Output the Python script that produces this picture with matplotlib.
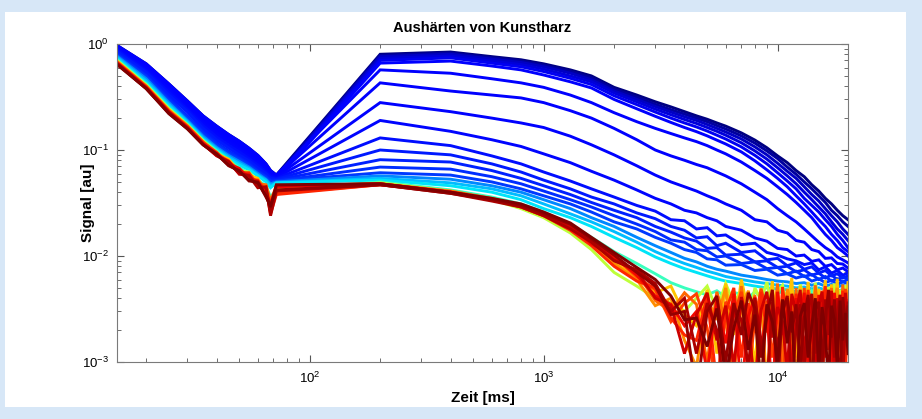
"""
    Aushaerten von Kunstharz: NMR signal decay curves on log-log axes,
    one curve per curing time, coloured with the jet colormap.
"""
# Modules:
import matplotlib
matplotlib.use("Agg")
import matplotlib.pyplot as plt
from matplotlib.patches import Rectangle

# Fonts (Helvetica-like, MATLAB look):
plt.rcParams['font.family'] = ['Liberation Sans', 'DejaVu Sans']
plt.rcParams['mathtext.fontset'] = 'custom'
plt.rcParams['mathtext.rm'] = 'Liberation Sans'
plt.rcParams['mathtext.default'] = 'regular'

# Data:
# time axis (ms): early echo train, later points, finer tail of late curves
early_t = [15, 20, 25, 30, 35, 40, 45, 50, 55, 60, 65, 68, 72]
late_t = [200, 400, 600, 800, 1000, 1300, 1600, 2000, 2500, 3000,
          3500, 4000, 4500, 5000, 5500, 6000, 7000, 8000, 9000, 10000,
          11000, 12000, 13000, 14000, 15000, 16000, 17000, 18000, 19000, 20000]
mid_t = late_t[:12]
tail_t = [4500, 5000, 5500, 6000, 6500, 7000, 7500, 8000,
          8500, 9000, 9500, 10000, 10500, 11000, 11500, 12000,
          12500, 13000, 13500, 14000, 14500, 15000, 15500, 16000,
          16500, 17000, 17500, 18000, 18500, 19000, 19500, 20000]

# position of each curve in the jet colormap (0 = first, 1 = last)
colour_pos = [0.0, 0.03, 0.06, 0.08, 0.10, 0.11,
              0.115, 0.12, 0.125, 0.13, 0.14, 0.15, 0.16, 0.17, 0.18,
              0.26, 0.31, 0.35,
              0.42, 0.58, 0.70, 0.76, 0.80, 0.84, 0.87, 0.90, 0.93, 0.96, 0.98, 1.0]

# signal at early_t, one row per curve
early_signal = [
    [0.97, 0.65, 0.42, 0.29, 0.21, 0.168, 0.140, 0.121, 0.104, 0.089, 0.074, 0.064, 0.058],
    [0.95, 0.63, 0.40, 0.275, 0.20, 0.158, 0.132, 0.114, 0.098, 0.084, 0.070, 0.062, 0.057],
    [0.93, 0.61, 0.385, 0.265, 0.19, 0.150, 0.126, 0.108, 0.093, 0.080, 0.068, 0.060, 0.056],
    [0.91, 0.59, 0.37, 0.25, 0.18, 0.142, 0.119, 0.102, 0.088, 0.076, 0.065, 0.058, 0.055],
    [0.88, 0.56, 0.35, 0.24, 0.17, 0.133, 0.111, 0.096, 0.083, 0.072, 0.062, 0.056, 0.054],
    [0.85, 0.54, 0.33, 0.23, 0.16, 0.125, 0.105, 0.090, 0.079, 0.068, 0.060, 0.054, 0.053],
    [0.97, 0.65, 0.42, 0.29, 0.21, 0.168, 0.140, 0.121, 0.104, 0.089, 0.074, 0.064, 0.058],
    [0.95, 0.63, 0.40, 0.275, 0.20, 0.158, 0.132, 0.114, 0.098, 0.084, 0.070, 0.062, 0.057],
    [0.93, 0.61, 0.385, 0.265, 0.19, 0.150, 0.126, 0.108, 0.093, 0.080, 0.068, 0.060, 0.056],
    [0.91, 0.59, 0.37, 0.25, 0.18, 0.142, 0.119, 0.102, 0.088, 0.076, 0.065, 0.058, 0.055],
    [0.88, 0.56, 0.35, 0.24, 0.17, 0.133, 0.111, 0.096, 0.083, 0.072, 0.062, 0.056, 0.054],
    [0.85, 0.54, 0.33, 0.23, 0.16, 0.125, 0.105, 0.090, 0.079, 0.068, 0.060, 0.054, 0.053],
    [0.82, 0.51, 0.31, 0.21, 0.150, 0.117, 0.098, 0.085, 0.075, 0.064, 0.057, 0.052, 0.052],
    [0.80, 0.50, 0.30, 0.205, 0.145, 0.113, 0.095, 0.083, 0.073, 0.063, 0.056, 0.051, 0.051],
    [0.79, 0.49, 0.29, 0.20, 0.140, 0.110, 0.092, 0.081, 0.071, 0.062, 0.055, 0.050, 0.051],
    [0.77, 0.47, 0.28, 0.19, 0.135, 0.106, 0.089, 0.078, 0.069, 0.060, 0.053, 0.048, 0.050],
    [0.75, 0.45, 0.27, 0.185, 0.130, 0.103, 0.086, 0.075, 0.067, 0.058, 0.052, 0.046, 0.049],
    [0.73, 0.43, 0.26, 0.18, 0.126, 0.100, 0.083, 0.072, 0.065, 0.057, 0.050, 0.044, 0.049],
    [0.71, 0.42, 0.25, 0.175, 0.124, 0.098, 0.080, 0.068, 0.060, 0.052, 0.046, 0.036, 0.042],
    [0.70, 0.41, 0.245, 0.172, 0.122, 0.095, 0.078, 0.064, 0.062, 0.050, 0.044, 0.030, 0.040],
    [0.69, 0.40, 0.24, 0.170, 0.120, 0.092, 0.082, 0.062, 0.058, 0.054, 0.040, 0.028, 0.044],
    [0.68, 0.40, 0.238, 0.169, 0.119, 0.092, 0.078, 0.063, 0.059, 0.047, 0.046, 0.027, 0.043],
    [0.68, 0.40, 0.235, 0.168, 0.118, 0.094, 0.076, 0.066, 0.055, 0.048, 0.047, 0.033, 0.046],
    [0.67, 0.395, 0.232, 0.166, 0.118, 0.095, 0.073, 0.065, 0.053, 0.052, 0.041, 0.032, 0.039],
    [0.67, 0.39, 0.23, 0.165, 0.117, 0.090, 0.079, 0.061, 0.061, 0.046, 0.043, 0.025, 0.038],
    [0.66, 0.39, 0.23, 0.163, 0.115, 0.093, 0.074, 0.067, 0.054, 0.051, 0.039, 0.031, 0.045],
    [0.66, 0.385, 0.228, 0.162, 0.114, 0.088, 0.078, 0.059, 0.058, 0.045, 0.044, 0.026, 0.046],
    [0.65, 0.38, 0.225, 0.160, 0.113, 0.089, 0.077, 0.060, 0.057, 0.044, 0.045, 0.024, 0.041],
    [0.65, 0.38, 0.222, 0.159, 0.112, 0.092, 0.071, 0.064, 0.051, 0.050, 0.036, 0.030, 0.042],
    [0.64, 0.38, 0.22, 0.158, 0.112, 0.091, 0.072, 0.063, 0.052, 0.049, 0.037, 0.029, 0.047],
]

# signal at late_t for the first (blue) curves, one row per curve
late_signal = [
    [0.80, 0.84, 0.76, 0.71, 0.65, 0.57, 0.50, 0.39, 0.33, 0.285,
     0.255, 0.23, 0.21, 0.195, 0.18, 0.168, 0.145, 0.124, 0.105, 0.088,
     0.076, 0.064, 0.056, 0.047, 0.041, 0.035, 0.031, 0.027, 0.024, 0.022],
    [0.78, 0.82, 0.74, 0.69, 0.63, 0.55, 0.48, 0.375, 0.315, 0.27,
     0.24, 0.218, 0.20, 0.185, 0.17, 0.158, 0.136, 0.116, 0.098, 0.083,
     0.069, 0.059, 0.050, 0.043, 0.037, 0.032, 0.027, 0.024, 0.021, 0.019],
    [0.76, 0.80, 0.72, 0.67, 0.61, 0.53, 0.46, 0.36, 0.30, 0.257,
     0.228, 0.206, 0.19, 0.174, 0.16, 0.148, 0.127, 0.107, 0.090, 0.075,
     0.063, 0.054, 0.045, 0.038, 0.033, 0.028, 0.024, 0.021, 0.018, 0.016],
    [0.73, 0.77, 0.69, 0.64, 0.58, 0.50, 0.44, 0.345, 0.285, 0.243,
     0.215, 0.194, 0.178, 0.163, 0.15, 0.138, 0.117, 0.098, 0.082, 0.068,
     0.057, 0.048, 0.040, 0.034, 0.029, 0.025, 0.021, 0.018, 0.016, 0.014],
    [0.70, 0.74, 0.66, 0.61, 0.55, 0.475, 0.415, 0.325, 0.268, 0.228,
     0.20, 0.18, 0.165, 0.151, 0.138, 0.127, 0.107, 0.089, 0.074, 0.061,
     0.051, 0.043, 0.035, 0.030, 0.026, 0.022, 0.019, 0.016, 0.014, 0.012],
    [0.66, 0.69, 0.62, 0.57, 0.51, 0.44, 0.385, 0.30, 0.245, 0.208,
     0.182, 0.163, 0.149, 0.136, 0.124, 0.114, 0.096, 0.079, 0.065, 0.054,
     0.045, 0.037, 0.031, 0.026, 0.022, 0.019, 0.016, 0.014, 0.012, 0.011],
    [0.57, 0.53, 0.47, 0.43, 0.39, 0.33, 0.28, 0.225, 0.185, 0.16,
     0.143, 0.13, 0.12, 0.11, 0.10, 0.092, 0.077, 0.064, 0.054, 0.045,
     0.038, 0.032, 0.027, 0.023, 0.019, 0.016, 0.014, 0.012, 0.011, 0.010],
    [0.43, 0.36, 0.33, 0.31, 0.28, 0.235, 0.20, 0.16, 0.125, 0.10,
     0.088, 0.08, 0.073, 0.068, 0.062, 0.057, 0.048, 0.040, 0.034, 0.028,
     0.024, 0.021, 0.018, 0.0155, 0.0135, 0.012, 0.011, 0.0098, 0.0092, 0.0086],
    [0.28, 0.23, 0.20, 0.18, 0.163, 0.135, 0.112, 0.090, 0.071, 0.058,
     0.050, 0.045, 0.041, 0.037, 0.034, 0.031, 0.027, 0.022, 0.021, 0.0175,
     0.0165, 0.014, 0.0135, 0.0115, 0.011, 0.0095, 0.0096, 0.0085, 0.0084, 0.0077],
    [0.19, 0.15, 0.125, 0.108, 0.092, 0.076, 0.063, 0.052, 0.042, 0.035,
     0.031, 0.027, 0.0255, 0.023, 0.0215, 0.019, 0.0175, 0.0148, 0.0138, 0.0118,
     0.0115, 0.0100, 0.0102, 0.0089, 0.0092, 0.0080, 0.0083, 0.0074, 0.0077, 0.0071],
    [0.13, 0.11, 0.088, 0.074, 0.062, 0.051, 0.043, 0.036, 0.030, 0.0265,
     0.022, 0.0215, 0.018, 0.0185, 0.0155, 0.0158, 0.0128, 0.0132, 0.0108, 0.0102,
     0.0094, 0.0090, 0.0083, 0.0086, 0.0074, 0.0079, 0.0069, 0.0073, 0.0066, 0.0069],
    [0.10, 0.09, 0.074, 0.062, 0.052, 0.043, 0.036, 0.031, 0.0255, 0.0225,
     0.019, 0.0175, 0.0148, 0.0152, 0.0125, 0.0132, 0.0108, 0.0112, 0.0092, 0.0095,
     0.0081, 0.0086, 0.0075, 0.0079, 0.0069, 0.0073, 0.0065, 0.0068, 0.0062, 0.0065],
    [0.081, 0.077, 0.064, 0.054, 0.046, 0.038, 0.032, 0.027, 0.023, 0.019,
     0.0168, 0.0148, 0.0138, 0.0118, 0.0120, 0.0102, 0.0104, 0.0088, 0.0090, 0.0078,
     0.0080, 0.0071, 0.0074, 0.0066, 0.0069, 0.0062, 0.0066, 0.0060, 0.0063, 0.0061],
    [0.069, 0.066, 0.056, 0.048, 0.041, 0.034, 0.029, 0.024, 0.020, 0.017,
     0.0142, 0.0135, 0.0115, 0.0112, 0.0098, 0.0100, 0.0085, 0.0088, 0.0076, 0.0078,
     0.0068, 0.0072, 0.0064, 0.0067, 0.0060, 0.0064, 0.0058, 0.0061, 0.0057, 0.0060],
    [0.061, 0.058, 0.050, 0.043, 0.037, 0.031, 0.026, 0.021, 0.018, 0.015,
     0.0132, 0.0115, 0.0108, 0.0094, 0.0092, 0.0082, 0.0083, 0.0073, 0.0075, 0.0066,
     0.0068, 0.0062, 0.0065, 0.0058, 0.0061, 0.0056, 0.0059, 0.0054, 0.0057, 0.0055],
    [0.057, 0.053, 0.046, 0.040, 0.034, 0.028, 0.023, 0.019, 0.015, 0.0125,
     0.0108, 0.0095, 0.0088, 0.0080, 0.0075, 0.0072, 0.0066, 0.0063, 0.0060, 0.0058,
     0.0057, 0.0055, 0.0056, 0.0053, 0.0055, 0.0052, 0.0054, 0.0051, 0.0053, 0.0051],
    [0.054, 0.049, 0.043, 0.037, 0.031, 0.025, 0.021, 0.017, 0.0135, 0.011,
     0.0095, 0.0085, 0.0078, 0.0072, 0.0068, 0.0064, 0.0060, 0.0057, 0.0055, 0.0053,
     0.0052, 0.0050, 0.0051, 0.0049, 0.0050, 0.0048, 0.0049, 0.0047, 0.0048, 0.0047],
    [0.052, 0.046, 0.040, 0.034, 0.028, 0.023, 0.019, 0.015, 0.012, 0.0098,
     0.0085, 0.0076, 0.0070, 0.0065, 0.0061, 0.0058, 0.0055, 0.0052, 0.0050, 0.0049,
     0.0048, 0.0046, 0.0047, 0.0045, 0.0046, 0.0044, 0.0045, 0.0043, 0.0044, 0.0043],
]

# signal of the last (cyan to dark red) curves at mid_t, then at tail_t
mid_signal = [
    [0.050, 0.042, 0.036, 0.031, 0.026, 0.020, 0.015, 0.0110, 0.0085, 0.0068, 0.0056, 0.0050],
    [0.049, 0.041, 0.034, 0.028, 0.023, 0.0165, 0.0115, 0.0070, 0.0052, 0.0040, 0.0036, 0.0030],
    [0.048, 0.040, 0.034, 0.029, 0.024, 0.018, 0.013, 0.0088, 0.0062, 0.0045, 0.0052, 0.0028],
    [0.048, 0.040, 0.034, 0.030, 0.025, 0.0185, 0.0128, 0.0085, 0.0060, 0.0034, 0.0040, 0.0016],
    [0.048, 0.041, 0.035, 0.030, 0.025, 0.019, 0.0135, 0.0095, 0.0070, 0.0038, 0.0030, 0.0045],
    [0.047, 0.040, 0.034, 0.029, 0.024, 0.019, 0.0140, 0.0098, 0.0064, 0.0048, 0.0024, 0.0036],
    [0.047, 0.040, 0.034, 0.029, 0.024, 0.0175, 0.0125, 0.0080, 0.0058, 0.0050, 0.0026, 0.0018],
    [0.048, 0.040, 0.034, 0.030, 0.025, 0.0195, 0.013, 0.0100, 0.0066, 0.0042, 0.0035, 0.0022],
    [0.048, 0.040, 0.034, 0.030, 0.025, 0.0190, 0.0138, 0.0092, 0.0072, 0.0040, 0.0034, 0.0012],
    [0.047, 0.039, 0.033, 0.029, 0.024, 0.018, 0.0135, 0.0090, 0.0074, 0.0055, 0.0030, 0.0040],
    [0.047, 0.039, 0.034, 0.030, 0.025, 0.0200, 0.0145, 0.0102, 0.0070, 0.0052, 0.0028, 0.0030],
    [0.048, 0.040, 0.035, 0.031, 0.026, 0.0205, 0.0150, 0.0108, 0.0078, 0.0060, 0.0042, 0.0025],
]
tail_signal = [
    [0.0046, 0.0043, 0.0047, 0.0041, 0.0045, 0.0044, 0.0040, 0.0046,
     0.0042, 0.0045, 0.0039, 0.0044, 0.0047, 0.0041, 0.0043, 0.0046,
     0.0040, 0.0044, 0.0042, 0.0047, 0.0041, 0.0045, 0.0043, 0.0039,
     0.0046, 0.0042, 0.0044, 0.0040, 0.0045, 0.0043, 0.0047, 0.0042],
    [0.0040, 0.0052, 0.0031, 0.0055, 0.0036, 0.0048, 0.0025, 0.0050,
     0.0038, 0.0057, 0.0029, 0.0046, 0.0053, 0.0033, 0.0049, 0.0027,
     0.0054, 0.0040, 0.0047, 0.0030, 0.0056, 0.0037, 0.0044, 0.0026,
     0.0051, 0.0039, 0.0055, 0.0032, 0.0048, 0.0041, 0.0053, 0.0035],
    [0.0022, 0.0048, 0.0012, 0.0055, 0.0018, 0.0060, 0.0030, 0.0009,
     0.0050, 0.0024, 0.0058, 0.0014, 0.0045, 0.0033, 0.0062, 0.0011,
     0.0052, 0.0020, 0.0057, 0.0028, 0.0008, 0.0049, 0.0035, 0.0059,
     0.0016, 0.0054, 0.0026, 0.0061, 0.0013, 0.0047, 0.0031, 0.0056],
    [0.0009, 0.0040, 0.0025, 0.0050, 0.0008, 0.0033, 0.0047, 0.0019,
     0.0038, 0.0006, 0.0044, 0.0027, 0.0015, 0.0049, 0.0034, 0.0005,
     0.0041, 0.0022, 0.0036, 0.0007, 0.0048, 0.0030, 0.0013, 0.0045,
     0.0032, 0.0004, 0.0039, 0.0050, 0.0021, 0.0035, 0.0010, 0.0046],
    [0.0035, 0.0010, 0.0046, 0.0024, 0.0007, 0.0052, 0.0016, 0.0043,
     0.0005, 0.0038, 0.0021, 0.0055, 0.0009, 0.0040, 0.0014, 0.0050,
     0.0006, 0.0034, 0.0045, 0.0012, 0.0053, 0.0019, 0.0004, 0.0042,
     0.0027, 0.0050, 0.0008, 0.0037, 0.0015, 0.0054, 0.0022, 0.0044],
    [0.0044, 0.0021, 0.0005, 0.0037, 0.0028, 0.0046, 0.0007, 0.0025,
     0.0049, 0.0030, 0.0011, 0.0036, 0.0004, 0.0042, 0.0026, 0.0038,
     0.0014, 0.0050, 0.0024, 0.0040, 0.0016, 0.0006, 0.0047, 0.0028,
     0.0041, 0.0012, 0.0034, 0.0005, 0.0043, 0.0027, 0.0049, 0.0018],
    [0.0016, 0.0042, 0.0006, 0.0030, 0.0050, 0.0011, 0.0036, 0.0003,
     0.0046, 0.0019, 0.0032, 0.0007, 0.0051, 0.0023, 0.0010, 0.0044,
     0.0029, 0.0005, 0.0048, 0.0017, 0.0039, 0.0009, 0.0033, 0.0052,
     0.0013, 0.0041, 0.0004, 0.0035, 0.0020, 0.0047, 0.0008, 0.0038],
    [0.0030, 0.0008, 0.0039, 0.0015, 0.0044, 0.0005, 0.0027, 0.0041,
     0.0012, 0.0034, 0.0004, 0.0046, 0.0018, 0.0031, 0.0007, 0.0040,
     0.0021, 0.0045, 0.0010, 0.0028, 0.0003, 0.0043, 0.0024, 0.0011,
     0.0037, 0.0006, 0.0045, 0.0019, 0.0032, 0.0009, 0.0041, 0.0014],
    [0.0028, 0.0045, 0.0016, 0.0034, 0.0009, 0.0041, 0.0022, 0.0006,
     0.0031, 0.0046, 0.0017, 0.0033, 0.0024, 0.0008, 0.0044, 0.0029,
     0.0048, 0.0012, 0.0025, 0.0039, 0.0005, 0.0034, 0.0046, 0.0015,
     0.0023, 0.0047, 0.0007, 0.0040, 0.0029, 0.0012, 0.0045, 0.0020],
    [0.0012, 0.0036, 0.0020, 0.0004, 0.0033, 0.0025, 0.0009, 0.0040,
     0.0016, 0.0006, 0.0037, 0.0013, 0.0029, 0.0042, 0.0005, 0.0022,
     0.0035, 0.0008, 0.0031, 0.0044, 0.0012, 0.0026, 0.0005, 0.0039,
     0.0018, 0.0030, 0.0011, 0.0027, 0.0043, 0.0007, 0.0024, 0.0036],
    [0.0005, 0.0030, 0.0042, 0.0010, 0.0036, 0.0018, 0.0045, 0.0032,
     0.0011, 0.0027, 0.0048, 0.0006, 0.0032, 0.0040, 0.0019, 0.0035,
     0.0009, 0.0026, 0.0043, 0.0004, 0.0031, 0.0037, 0.0010, 0.0025,
     0.0048, 0.0017, 0.0039, 0.0013, 0.0006, 0.0041, 0.0023, 0.0033],
    [0.0026, 0.0014, 0.0032, 0.0007, 0.0021, 0.0038, 0.0013, 0.0028,
     0.0006, 0.0035, 0.0024, 0.0010, 0.0039, 0.0015, 0.0030, 0.0004,
     0.0027, 0.0036, 0.0011, 0.0022, 0.0040, 0.0008, 0.0033, 0.0019,
     0.0006, 0.0034, 0.0025, 0.0009, 0.0038, 0.0016, 0.0029, 0.0012],
]

# Figure with light blue frame round a white panel:
fig = plt.figure(figsize=(9.22, 4.19), dpi=100)
fig.patch.set_facecolor('#d7e7f7')
panel = Rectangle((5 / 922, 1 - 407 / 419), 901 / 922, 395 / 419,
                  transform=fig.transFigure, facecolor='white',
                  edgecolor='none', zorder=-10)
fig.add_artist(panel)

ax = fig.add_axes([117 / 922, 1 - 362 / 419, 731 / 922, 318 / 419])
ax.set_zorder(5)

# Build the time axis and signal of every curve:
n_blue = len(late_signal)
times = []
signals = []
for i in range(len(colour_pos)):
    if i < n_blue:
        times.append(early_t + late_t)
        signals.append(early_signal[i] + late_signal[i])
    else:
        j = i - n_blue
        times.append(early_t + mid_t + tail_t)
        signals.append(early_signal[i] + mid_signal[j] + tail_signal[j])

# Plot every curve, blue first so red lies on top:
for pos, t, s in zip(colour_pos, times, signals):
    ax.plot(t, s, color=plt.cm.jet(pos), linewidth=2.1,
            solid_joinstyle='miter')

# Axes:
ax.set_xscale('log')
ax.set_yscale('log')
ax.set_xlim(15, 20000)
ax.set_ylim(1e-3, 1)

# MATLAB-like ticks and box:
ax.tick_params(which='both', direction='in', top=True, right=True,
               color='#555555', labelsize=9.5, pad=6)
ax.tick_params(which='major', length=5)
ax.tick_params(which='minor', length=3)
for spine in ax.spines.values():
    spine.set_color('#7a7a7a')

# Title and labels:
ax.set_title("Aushärten von Kunstharz", fontsize=10.5, fontweight='bold', pad=9)
ax.set_xlabel("Zeit [ms]", fontsize=11, fontweight='bold', labelpad=4)
ax.set_ylabel("Signal [au]", fontsize=11, fontweight='bold')
ax.yaxis.set_label_coords(-0.03, 0.5)

fig.savefig("out.png", dpi=100, facecolor=fig.get_facecolor())
